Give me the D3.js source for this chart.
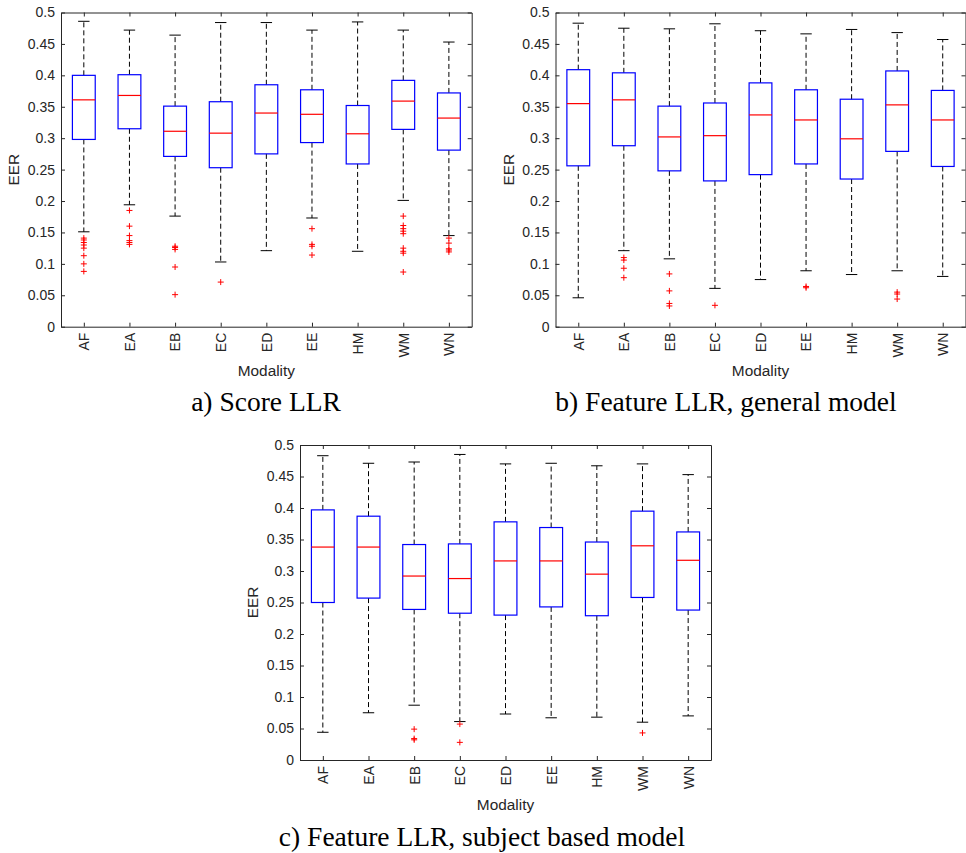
<!DOCTYPE html>
<html>
<head>
<meta charset="utf-8">
<script src="https://cdn.jsdelivr.net/npm/d3@7"></script>
<style>
  html, body { margin: 0; padding: 0; background: #fff; }
  svg { display: block; }
</style>
</head>
<body>
<svg id="chart" width="966" height="853"></svg>
<script>
// Modalities on the x axis and EER tick values
const modalities = ["AF", "EA", "EB", "EC", "ED", "EE", "HM", "WM", "WN"];
const yTicks = [0, 0.05, 0.1, 0.15, 0.2, 0.25, 0.3, 0.35, 0.4, 0.45, 0.5];
const yTickLabels = ["0", "0.05", "0.1", "0.15", "0.2", "0.25", "0.3", "0.35", "0.4", "0.45", "0.5"];

// a) Score LLR
const scoreUpper   = [0.486, 0.472, 0.464, 0.484, 0.484, 0.472, 0.485, 0.472, 0.453];
const scoreQ3      = [0.400, 0.401, 0.351, 0.358, 0.385, 0.377, 0.352, 0.392, 0.372];
const scoreMedian  = [0.361, 0.368, 0.311, 0.308, 0.340, 0.338, 0.307, 0.359, 0.332];
const scoreQ1      = [0.298, 0.315, 0.271, 0.253, 0.275, 0.293, 0.259, 0.314, 0.281];
const scoreLower   = [0.151, 0.194, 0.176, 0.103, 0.121, 0.173, 0.120, 0.201, 0.145];
const scoreOutliers = [
  [0.141, 0.138, 0.134, 0.130, 0.125, 0.113, 0.100, 0.088],
  [0.185, 0.160, 0.145, 0.137, 0.134, 0.131],
  [0.128, 0.126, 0.123, 0.095, 0.051],
  [0.071],
  [],
  [0.156, 0.131, 0.128, 0.114],
  [],
  [0.176, 0.161, 0.156, 0.152, 0.148, 0.125, 0.120, 0.117, 0.087],
  [0.141, 0.133, 0.124, 0.122, 0.119]
];

// b) Feature LLR, general model
const generalUpper  = [0.483, 0.475, 0.474, 0.482, 0.471, 0.466, 0.473, 0.468, 0.457];
const generalQ3     = [0.409, 0.404, 0.351, 0.356, 0.388, 0.377, 0.362, 0.407, 0.376];
const generalMedian = [0.355, 0.361, 0.302, 0.304, 0.337, 0.329, 0.299, 0.353, 0.329];
const generalQ1     = [0.256, 0.288, 0.248, 0.232, 0.242, 0.259, 0.235, 0.279, 0.255];
const generalLower  = [0.046, 0.121, 0.108, 0.061, 0.075, 0.089, 0.083, 0.089, 0.080];
const generalOutliers = [
  [],
  [0.110, 0.106, 0.093, 0.078],
  [0.084, 0.057, 0.037, 0.033],
  [0.034],
  [],
  [0.064, 0.062],
  [],
  [0.055, 0.052, 0.044],
  []
];

// c) Feature LLR, subject based model
const subjectUpper  = [0.483, 0.471, 0.473, 0.485, 0.470, 0.471, 0.467, 0.470, 0.453];
const subjectQ3     = [0.397, 0.387, 0.342, 0.343, 0.378, 0.369, 0.346, 0.395, 0.362];
const subjectMedian = [0.338, 0.338, 0.292, 0.288, 0.316, 0.316, 0.295, 0.340, 0.317];
const subjectQ1     = [0.250, 0.257, 0.239, 0.233, 0.230, 0.243, 0.229, 0.258, 0.238];
const subjectLower  = [0.044, 0.075, 0.087, 0.061, 0.073, 0.067, 0.068, 0.060, 0.070];
const subjectOutliers = [
  [],
  [],
  [0.049, 0.034, 0.032],
  [0.057, 0.028],
  [],
  [],
  [],
  [0.043],
  []
];

const captions = ["a) Score LLR", "b) Feature LLR, general model", "c) Feature LLR, subject based model"];

const svg = d3.select("#chart");
const axisColor = "#262626";
const tickFont = "'Liberation Sans', Arial, Helvetica, sans-serif";

// Draws one MATLAB-style box plot panel
function drawPanel(opts) {
  const { left, top, width, height, upper, q3, median, q1, lower, outliers,
          caption, captionX, captionY } = opts;
  const g = svg.append("g");

  const x = d3.scalePoint().domain(modalities).range([left, left + width]).padding(0.5);
  const y = d3.scaleLinear().domain([0, 0.5]).range([top + height, top]);
  const step = x.step();
  const boxHalf = step * 0.25;
  const capHalf = step * 0.125;

  // Axes on all four sides, ticks pointing inward
  const styleAxis = sel => {
    sel.selectAll("path.domain").attr("stroke", axisColor).attr("stroke-width", 1);
    sel.selectAll(".tick line").attr("stroke", axisColor).attr("stroke-width", 1);
    sel.selectAll("text").attr("fill", axisColor)
      .style("font-family", tickFont).style("font-size", "14px");
  };

  g.append("g").attr("transform", `translate(${left},0)`)
    .call(d3.axisLeft(y).tickValues(yTicks).tickFormat((d, i) => yTickLabels[i])
      .tickSize(-4).tickSizeOuter(0).tickPadding(6))
    .call(styleAxis);

  g.append("g").attr("transform", `translate(${left + width},0)`)
    .call(d3.axisRight(y).tickValues(yTicks).tickFormat("").tickSize(-4).tickSizeOuter(0))
    .call(styleAxis);

  g.append("g").attr("transform", `translate(0,${top})`)
    .call(d3.axisTop(x).tickFormat("").tickSize(-4).tickSizeOuter(0))
    .call(styleAxis);

  const bottomAxis = g.append("g").attr("transform", `translate(0,${top + height})`)
    .call(d3.axisBottom(x).tickSize(-4).tickSizeOuter(0))
    .call(styleAxis);
  bottomAxis.selectAll(".tick text")
    .attr("transform", "rotate(-90)")
    .attr("x", -6).attr("y", 0).attr("dy", "0.35em")
    .style("text-anchor", "end");

  // Axis titles
  g.append("text")
    .attr("transform", `translate(${left - 42},${top + height / 2}) rotate(-90)`)
    .attr("text-anchor", "middle")
    .attr("fill", axisColor)
    .style("font-family", tickFont).style("font-size", "15.4px")
    .text("EER");

  g.append("text")
    .attr("x", left + width / 2).attr("y", top + height + 49.5)
    .attr("text-anchor", "middle")
    .attr("fill", axisColor)
    .style("font-family", tickFont).style("font-size", "15.4px")
    .text("Modality");

  const rows = modalities.map((m, i) => ({
    m, upper: upper[i], q3: q3[i], median: median[i], q1: q1[i], lower: lower[i], out: outliers[i]
  }));

  const box = g.append("g").selectAll("g").data(rows).join("g");

  // Dashed whiskers
  box.append("line")
    .attr("x1", d => x(d.m)).attr("x2", d => x(d.m))
    .attr("y1", d => y(d.q3)).attr("y2", d => y(d.upper))
    .attr("stroke", "#000").attr("stroke-width", 1).attr("stroke-dasharray", "5,3");
  box.append("line")
    .attr("x1", d => x(d.m)).attr("x2", d => x(d.m))
    .attr("y1", d => y(d.q1)).attr("y2", d => y(d.lower))
    .attr("stroke", "#000").attr("stroke-width", 1).attr("stroke-dasharray", "5,3");

  // Whisker caps
  box.append("line")
    .attr("x1", d => x(d.m) - capHalf).attr("x2", d => x(d.m) + capHalf)
    .attr("y1", d => y(d.upper)).attr("y2", d => y(d.upper))
    .attr("stroke", "#000").attr("stroke-width", 1);
  box.append("line")
    .attr("x1", d => x(d.m) - capHalf).attr("x2", d => x(d.m) + capHalf)
    .attr("y1", d => y(d.lower)).attr("y2", d => y(d.lower))
    .attr("stroke", "#000").attr("stroke-width", 1);

  // Interquartile box
  box.append("rect")
    .attr("x", d => x(d.m) - boxHalf).attr("width", boxHalf * 2)
    .attr("y", d => y(d.q3)).attr("height", d => y(d.q1) - y(d.q3))
    .attr("fill", "none").attr("stroke", "#0000ff").attr("stroke-width", 1.2);

  // Median
  box.append("line")
    .attr("x1", d => x(d.m) - boxHalf).attr("x2", d => x(d.m) + boxHalf)
    .attr("y1", d => y(d.median)).attr("y2", d => y(d.median))
    .attr("stroke", "#ff0000").attr("stroke-width", 1.2);

  // Outliers as '+' markers
  box.selectAll("path.outlier")
    .data(d => d.out.map(v => ({ m: d.m, v })))
    .join("path")
    .attr("class", "outlier")
    .attr("d", d => {
      const cx = x(d.m), cy = y(d.v), r = 3;
      return `M${cx - r},${cy}H${cx + r}M${cx},${cy - r}V${cy + r}`;
    })
    .attr("stroke", "#ff0000").attr("stroke-width", 1).attr("fill", "none");

  // Sub-figure caption
  svg.append("text")
    .attr("x", captionX).attr("y", captionY)
    .attr("text-anchor", "middle")
    .attr("fill", "#000")
    .style("font-family", "'Liberation Serif', 'Times New Roman', serif")
    .style("font-size", "27.5px")
    .text(caption);
}

drawPanel({
  left: 61, top: 12.5, width: 410.7, height: 314.2,
  upper: scoreUpper, q3: scoreQ3, median: scoreMedian, q1: scoreQ1, lower: scoreLower,
  outliers: scoreOutliers, caption: captions[0], captionX: 266, captionY: 411
});

drawPanel({
  left: 555.5, top: 12.5, width: 410, height: 314.2,
  upper: generalUpper, q3: generalQ3, median: generalMedian, q1: generalQ1, lower: generalLower,
  outliers: generalOutliers, caption: captions[1], captionX: 726, captionY: 411
});

drawPanel({
  left: 300, top: 445, width: 411, height: 315,
  upper: subjectUpper, q3: subjectQ3, median: subjectMedian, q1: subjectQ1, lower: subjectLower,
  outliers: subjectOutliers, caption: captions[2], captionX: 482, captionY: 846
});
</script>
</body>
</html>
